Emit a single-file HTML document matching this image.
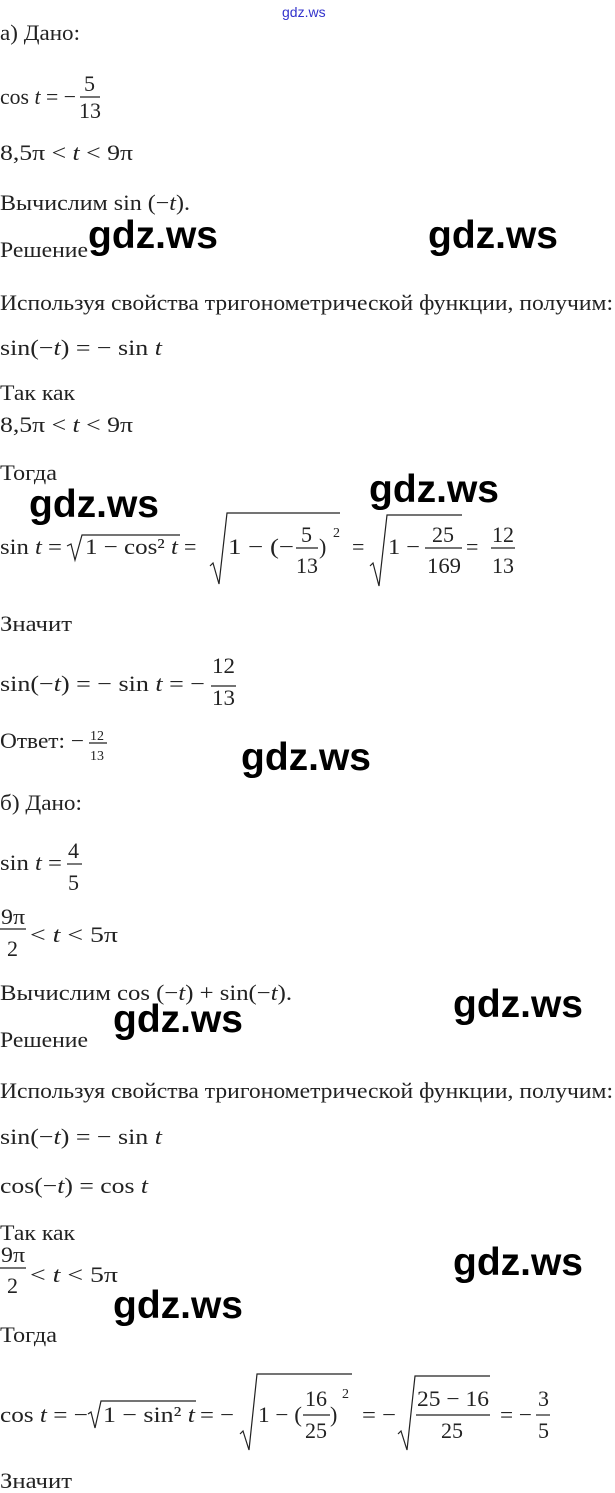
<!DOCTYPE html>
<html><head><meta charset="utf-8"><style>
html,body{margin:0;padding:0;background:#fff;}
svg{display:block;}
.t{font-family:"Liberation Serif",serif;font-size:22px;fill:#222;}
.i{font-style:italic;}
.s{font-size:14px;}
.w{font-family:"Liberation Sans",sans-serif;font-weight:bold;font-size:39px;fill:#000;}
.l{stroke:#222;stroke-width:1.2;fill:none;}
</style></head><body>
<svg width="615" height="1493" viewBox="0 0 615 1493" xmlns="http://www.w3.org/2000/svg">
<text x="282" y="17" style="font-family:'Liberation Sans',sans-serif;font-size:14px;fill:#33c;">gdz.ws</text>

<g class="t">
<text x="0" y="40" textLength="80" lengthAdjust="spacingAndGlyphs">а) Дано:</text>
<text x="0" y="104" textLength="76" lengthAdjust="spacingAndGlyphs">cos <tspan class="i">t</tspan> = −</text>
<text x="84" y="91">5</text><line class="l" x1="80" y1="97" x2="100" y2="97"/><text x="79" y="118" textLength="22" lengthAdjust="spacingAndGlyphs">13</text>
<text x="0" y="160" textLength="133" lengthAdjust="spacingAndGlyphs">8,5π &lt; <tspan class="i">t</tspan> &lt; 9π</text>
<text x="0" y="210" textLength="190" lengthAdjust="spacingAndGlyphs">Вычислим sin (−<tspan class="i">t</tspan>).</text>
<text x="0" y="257" textLength="88" lengthAdjust="spacingAndGlyphs">Решение</text>
<text x="0" y="310" textLength="613" lengthAdjust="spacingAndGlyphs">Используя свойства тригонометрической функции, получим:</text>
<text x="0" y="355" textLength="162" lengthAdjust="spacingAndGlyphs">sin(−<tspan class="i">t</tspan>) = − sin <tspan class="i">t</tspan></text>
<text x="0" y="400" textLength="75" lengthAdjust="spacingAndGlyphs">Так как</text>
<text x="0" y="432" textLength="133" lengthAdjust="spacingAndGlyphs">8,5π &lt; <tspan class="i">t</tspan> &lt; 9π</text>
<text x="0" y="480" textLength="57" lengthAdjust="spacingAndGlyphs">Тогда</text>

<text x="0" y="554" textLength="62" lengthAdjust="spacingAndGlyphs">sin <tspan class="i">t</tspan> =</text>
<path class="l" d="M67 546 L71 544 L75 560 L82 535 L180 535"/>
<text x="85" y="554" textLength="93" lengthAdjust="spacingAndGlyphs">1 − cos² <tspan class="i">t</tspan></text>
<text x="184" y="554">=</text>
<path class="l" d="M210 566 L213 563 L219 584 L227 513 L340 513"/>
<text x="228" y="554" textLength="66" lengthAdjust="spacingAndGlyphs">1 − (−</text>
<text x="301" y="542">5</text><line class="l" x1="296" y1="548" x2="318" y2="548"/><text x="296" y="573" textLength="22" lengthAdjust="spacingAndGlyphs">13</text>
<text x="319" y="554">)</text><text class="s" x="333" y="537">2</text>
<text x="352" y="554">=</text>
<path class="l" d="M370 566 L373 563 L379 586 L387 515 L462 515"/>
<text x="388" y="554" textLength="32" lengthAdjust="spacingAndGlyphs">1 −</text>
<text x="432" y="542">25</text><line class="l" x1="425" y1="548" x2="462" y2="548"/><text x="427" y="573" textLength="34" lengthAdjust="spacingAndGlyphs">169</text>
<text x="466" y="554">=</text>
<text x="492" y="542" textLength="22" lengthAdjust="spacingAndGlyphs">12</text><line class="l" x1="491" y1="548" x2="515" y2="548"/><text x="492" y="573" textLength="22" lengthAdjust="spacingAndGlyphs">13</text>

<text x="0" y="631" textLength="72" lengthAdjust="spacingAndGlyphs">Значит</text>
<text x="0" y="691" textLength="205" lengthAdjust="spacingAndGlyphs">sin(−<tspan class="i">t</tspan>) = − sin <tspan class="i">t</tspan> = −</text>
<text x="212" y="673" textLength="23" lengthAdjust="spacingAndGlyphs">12</text><line class="l" x1="211" y1="686" x2="236" y2="686"/><text x="212" y="705" textLength="23" lengthAdjust="spacingAndGlyphs">13</text>
<text x="0" y="748" textLength="84" lengthAdjust="spacingAndGlyphs">Ответ: −</text>
<text class="s" x="90" y="740">12</text><line class="l" x1="89" y1="743" x2="107" y2="743"/><text class="s" x="90" y="760">13</text>

<text x="0" y="810" textLength="82" lengthAdjust="spacingAndGlyphs">б) Дано:</text>
<text x="0" y="870" textLength="62" lengthAdjust="spacingAndGlyphs">sin <tspan class="i">t</tspan> =</text>
<text x="68" y="858">4</text><line class="l" x1="67" y1="864" x2="82" y2="864"/><text x="68" y="890">5</text>
<text x="1" y="924" textLength="24" lengthAdjust="spacingAndGlyphs">9π</text><line class="l" x1="0" y1="929" x2="26" y2="929"/><text x="7" y="956">2</text>
<text x="30" y="942" textLength="88" lengthAdjust="spacingAndGlyphs">&lt; <tspan class="i">t</tspan> &lt; 5π</text>
<text x="0" y="1000" textLength="292" lengthAdjust="spacingAndGlyphs">Вычислим cos (−<tspan class="i">t</tspan>) + sin(−<tspan class="i">t</tspan>).</text>
<text x="0" y="1047" textLength="88" lengthAdjust="spacingAndGlyphs">Решение</text>
<text x="0" y="1098" textLength="613" lengthAdjust="spacingAndGlyphs">Используя свойства тригонометрической функции, получим:</text>
<text x="0" y="1144" textLength="162" lengthAdjust="spacingAndGlyphs">sin(−<tspan class="i">t</tspan>) = − sin <tspan class="i">t</tspan></text>
<text x="0" y="1193" textLength="148" lengthAdjust="spacingAndGlyphs">cos(−<tspan class="i">t</tspan>) = cos <tspan class="i">t</tspan></text>
<text x="0" y="1240" textLength="75" lengthAdjust="spacingAndGlyphs">Так как</text>
<text x="1" y="1262" textLength="24" lengthAdjust="spacingAndGlyphs">9π</text><line class="l" x1="0" y1="1268" x2="26" y2="1268"/><text x="7" y="1293">2</text>
<text x="30" y="1282" textLength="88" lengthAdjust="spacingAndGlyphs">&lt; <tspan class="i">t</tspan> &lt; 5π</text>
<text x="0" y="1342" textLength="57" lengthAdjust="spacingAndGlyphs">Тогда</text>

<text x="0" y="1422" textLength="88" lengthAdjust="spacingAndGlyphs">cos <tspan class="i">t</tspan> = −</text>
<path class="l" d="M88 1414 L91 1412 L95 1428 L101 1401 L196 1401"/>
<text x="103" y="1422" textLength="92" lengthAdjust="spacingAndGlyphs">1 − sin² <tspan class="i">t</tspan></text>
<text x="200" y="1422" textLength="34" lengthAdjust="spacingAndGlyphs">= −</text>
<path class="l" d="M240 1434 L243 1431 L249 1450 L257 1374 L352 1374"/>
<text x="258" y="1422" textLength="44" lengthAdjust="spacingAndGlyphs">1 − (</text>
<text x="305" y="1406">16</text><line class="l" x1="303" y1="1415" x2="330" y2="1415"/><text x="305" y="1438">25</text>
<text x="330" y="1422">)</text><text class="s" x="342" y="1398">2</text>
<text x="362" y="1422" textLength="34" lengthAdjust="spacingAndGlyphs">= −</text>
<path class="l" d="M398 1434 L401 1431 L407 1450 L415 1376 L490 1376"/>
<text x="417" y="1406" textLength="72" lengthAdjust="spacingAndGlyphs">25 − 16</text><line class="l" x1="416" y1="1415" x2="490" y2="1415"/><text x="441" y="1438">25</text>
<text x="500" y="1422" textLength="32" lengthAdjust="spacingAndGlyphs">= −</text>
<text x="538" y="1406">3</text><line class="l" x1="536" y1="1415" x2="550" y2="1415"/><text x="538" y="1438">5</text>
<text x="0" y="1488" textLength="72" lengthAdjust="spacingAndGlyphs">Значит</text>
</g>

<g class="w">
<text x="88" y="248" textLength="130" lengthAdjust="spacingAndGlyphs">gdz.ws</text>
<text x="428" y="248" textLength="130" lengthAdjust="spacingAndGlyphs">gdz.ws</text>
<text x="29" y="517" textLength="130" lengthAdjust="spacingAndGlyphs">gdz.ws</text>
<text x="369" y="502" textLength="130" lengthAdjust="spacingAndGlyphs">gdz.ws</text>
<text x="241" y="770" textLength="130" lengthAdjust="spacingAndGlyphs">gdz.ws</text>
<text x="113" y="1032" textLength="130" lengthAdjust="spacingAndGlyphs">gdz.ws</text>
<text x="453" y="1017" textLength="130" lengthAdjust="spacingAndGlyphs">gdz.ws</text>
<text x="453" y="1275" textLength="130" lengthAdjust="spacingAndGlyphs">gdz.ws</text>
<text x="113" y="1318" textLength="130" lengthAdjust="spacingAndGlyphs">gdz.ws</text>
</g>
</svg>
</body></html>
